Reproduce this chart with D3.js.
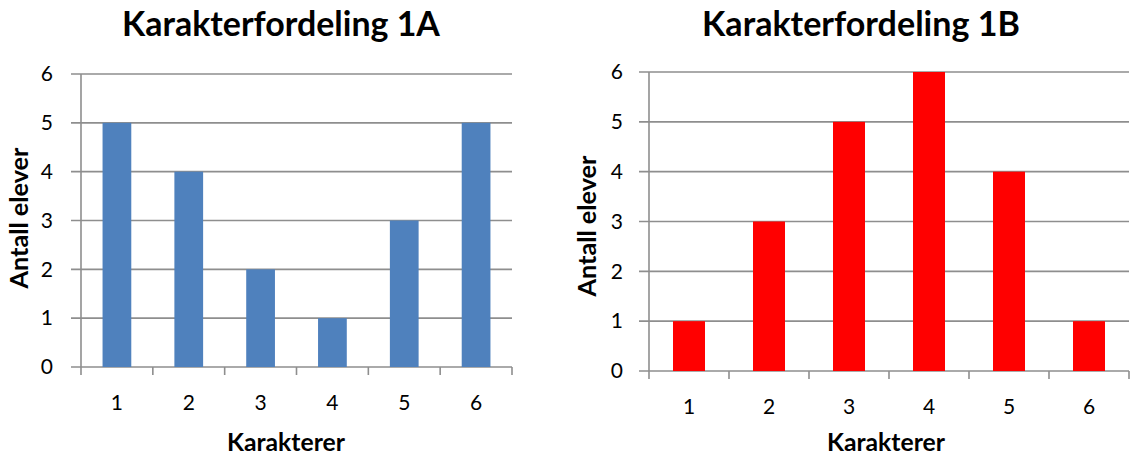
<!DOCTYPE html>
<html>
<head>
<meta charset="utf-8">
<script src="https://cdn.jsdelivr.net/npm/d3@7"></script>
<style>
  body { margin: 0; background: #fff; }
  text { font-family: Lato, "Noto Sans", sans-serif; fill: #000; }
</style>
</head>
<body>
<script>
var width = 1132, height = 458;

// data
var karakterer = ["1", "2", "3", "4", "5", "6"];
var elever1A = [5, 4, 2, 1, 3, 5];
var elever1B = [1, 3, 5, 6, 4, 1];
var yTicks = [0, 1, 2, 3, 4, 5, 6];

var svg = d3.select("body").append("svg")
    .attr("width", width)
    .attr("height", height);

// fit a text element to a target width by scaling its font size
function fitText(sel, target) {
    var fs = parseFloat(sel.attr("font-size"));
    var w = sel.node().getComputedTextLength();
    sel.attr("font-size", fs * target / w);
}

function drawPanel(p) {
    var g = svg.append("g");

    var x = d3.scaleBand().domain(karakterer).range([p.x0, p.x1]).padding(0);
    var y = d3.scaleLinear().domain([0, 6]).range([p.yBot, p.yTop]);
    var barW = x.bandwidth() * 0.4;

    // horizontal gridlines (extend left as tick marks)
    g.selectAll("line.grid")
        .data(yTicks)
        .enter().append("line")
        .attr("class", "grid")
        .attr("x1", p.x0 - 10)
        .attr("x2", p.x1)
        .attr("y1", function (d) { return y(d); })
        .attr("y2", function (d) { return y(d); })
        .attr("stroke", "#8e8e8e")
        .attr("stroke-width", 1.6);

    // bars
    g.selectAll("rect.bar")
        .data(p.values)
        .enter().append("rect")
        .attr("class", "bar")
        .attr("x", function (d, i) { return x(karakterer[i]) + (x.bandwidth() - barW) / 2; })
        .attr("y", function (d) { return y(d); })
        .attr("width", barW)
        .attr("height", function (d) { return y(0) - y(d); })
        .attr("fill", p.color);

    // vertical axis line
    g.append("line")
        .attr("x1", p.x0).attr("x2", p.x0)
        .attr("y1", p.yTop).attr("y2", p.yBot + 8)
        .attr("stroke", "#8e8e8e")
        .attr("stroke-width", 1.6);

    // x tick marks at category boundaries
    var bounds = karakterer.map(function (k) { return x(k); }).concat([p.x1]);
    g.selectAll("line.xtick")
        .data(bounds.slice(1))
        .enter().append("line")
        .attr("class", "xtick")
        .attr("x1", function (d) { return d; })
        .attr("x2", function (d) { return d; })
        .attr("y1", p.yBot)
        .attr("y2", p.yBot + 8)
        .attr("stroke", "#8e8e8e")
        .attr("stroke-width", 1.6);

    // y tick labels
    var yAxis = g.append("g")
        .attr("transform", "translate(" + p.x0 + ",0)")
        .call(d3.axisLeft(y).tickValues(yTicks).tickFormat(d3.format("d")).tickSize(0).tickPadding(p.yPad));
    yAxis.select(".domain").remove();
    yAxis.selectAll("text")
        .attr("font-size", 21)
        .style("font-family", "Lato, 'Noto Sans', sans-serif")
        .attr("fill", "#000");

    // x tick labels
    var xAxis = g.append("g")
        .attr("transform", "translate(0," + p.yBot + ")")
        .call(d3.axisBottom(x).tickSize(0).tickPadding(28));
    xAxis.select(".domain").remove();
    xAxis.selectAll("text")
        .attr("font-size", 21)
        .style("font-family", "Lato, 'Noto Sans', sans-serif")
        .attr("fill", "#000");

    // title
    var t = g.append("text")
        .attr("x", p.titleX)
        .attr("y", 36)
        .attr("text-anchor", "middle")
        .attr("font-weight", "bold")
        .attr("font-size", 30)
        .text(p.title);
    fitText(t, 318);

    // x axis title
    var xt = g.append("text")
        .attr("x", p.xTitleX)
        .attr("y", 451)
        .attr("text-anchor", "middle")
        .attr("font-weight", "bold")
        .attr("font-size", 20)
        .text("Karakterer");
    fitText(xt, 118);

    // y axis title
    var yt = g.append("text")
        .attr("transform", "translate(" + (p.yTitleX) + "," + p.yTitleY + ") rotate(-90)")
        .attr("text-anchor", "middle")
        .attr("font-weight", "bold")
        .attr("font-size", 20)
        .text("Antall elever");
    fitText(yt, 141);
}

drawPanel({
    title: "Karakterfordeling 1A", values: elever1A, color: "#4f81bd",
    x0: 81, x1: 512, yTop: 74, yBot: 367, yPad: 28,
    titleX: 281, xTitleX: 286, yTitleX: 28, yTitleY: 218
});

drawPanel({
    title: "Karakterfordeling 1B", values: elever1B, color: "#ff0000",
    x0: 649, x1: 1129, yTop: 72, yBot: 371, yPad: 26,
    titleX: 861, xTitleX: 886, yTitleX: 596, yTitleY: 226
});
</script>
</body>
</html>
